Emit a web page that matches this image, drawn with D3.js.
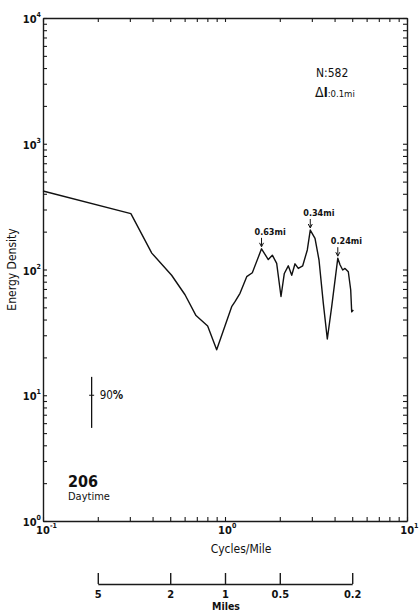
<!DOCTYPE html>
<html>
<head>
<meta charset="utf-8">
<script src="https://cdn.jsdelivr.net/npm/d3@7/dist/d3.min.js"></script>
<style>
  html, body { margin: 0; padding: 0; background: #fff; }
  svg { display: block; }
  text { font-family: "Liberation Sans Narrow", "DejaVu Sans Condensed", "Arial Narrow", sans-serif; fill: #111; }
</style>
</head>
<body>
<svg id="chart" width="419" height="613"></svg>
<script>
// Spectrum of energy density vs. spatial frequency (cycles per mile)
const FREQ = [0.1, 0.304, 0.396, 0.509, 0.603, 0.693, 0.803, 0.900, 1.088, 1.135,
              1.209, 1.316, 1.413, 1.5873, 1.729, 1.820, 1.923, 2.031, 2.118, 2.227,
              2.326, 2.425, 2.528, 2.673, 2.833, 2.9412, 3.123, 3.285, 3.468, 3.649,
              3.857, 4.1667, 4.285, 4.434, 4.564, 4.759, 4.905, 4.968, 5.07];
const DENSITY = [421, 278, 135, 90, 63, 43, 35.5, 23, 50.6, 55.5,
                 64.7, 87.7, 94.3, 146, 120, 130, 112, 61, 93, 107,
                 90, 111, 102, 107, 143, 206, 177, 119, 54, 28,
                 50.6, 123, 109, 99, 102, 96, 69, 46, 47.6];

// Wavelengths of the marked peaks (miles)
const PEAK_MILES = [0.63, 0.34, 0.24];
const PEAK_LABELS = ["0.63mi", "0.34mi", "0.24mi"];

// Axis decades
const X_DECADES = [0.1, 1, 10];
const X_EXPONENTS = ["-1", "0", "1"];
const Y_DECADES = [1, 10, 100, 1000, 10000];
const Y_EXPONENTS = ["0", "1", "2", "3", "4"];

// Wavelength axis (miles)
const MILES_TICKS = [5, 2, 1, 0.5, 0.2];

// 90% confidence bar
const CONF_FREQ = 0.185;
const CONF_CENTER = 10;
const CONF_LOW = 5.5;
const CONF_HIGH = 14;

const svg = d3.select("#chart");
const L = 43, R = 407, T = 18, B = 521;

const x = d3.scaleLog().domain([0.1, 10]).range([L, R]);
const y = d3.scaleLog().domain([1, 10000]).range([B, T]);

function logTicks(lo, hi) {
  const out = [];
  for (let d = lo; d < hi; d *= 10) for (let k = 1; k <= 10; k++) out.push(d * k);
  return Array.from(new Set(out.map(v => +v.toPrecision(6))));
}
const xTicks = logTicks(0.1, 10);
const yTicks = logTicks(1, 10000);

function styleAxis(g) {
  g.selectAll("path.domain").attr("stroke", "#1a1a1a").attr("stroke-width", 1.4);
  g.selectAll(".tick line").attr("stroke", "#1a1a1a").attr("stroke-width", 1.1);
  g.selectAll(".tick text").remove();
}

svg.append("g").attr("transform", `translate(0,${B})`)
  .call(d3.axisBottom(x).tickValues(xTicks).tickSizeInner(-4).tickSizeOuter(0).tickFormat(""))
  .call(styleAxis);
svg.append("g").attr("transform", `translate(0,${T})`)
  .call(d3.axisTop(x).tickValues(xTicks).tickSizeInner(-4).tickSizeOuter(0).tickFormat(""))
  .call(styleAxis);
svg.append("g").attr("transform", `translate(${L},0)`)
  .call(d3.axisLeft(y).tickValues(yTicks).tickSizeInner(-4).tickSizeOuter(0).tickFormat(""))
  .call(styleAxis);
svg.append("g").attr("transform", `translate(${R},0)`)
  .call(d3.axisRight(y).tickValues(yTicks).tickSizeInner(-4).tickSizeOuter(0).tickFormat(""))
  .call(styleAxis);

// Power-of-ten labels with superscripts
function powerLabel(px, py, exp, anchor) {
  const base = svg.append("text")
    .attr("font-size", 11).attr("font-weight", "bold")
    .attr("y", py).text("10");
  const w = base.node().getComputedTextLength();
  const sup = svg.append("text")
    .attr("font-size", 7).attr("font-weight", "bold")
    .attr("y", py - 6).text(exp);
  const sw = sup.node().getComputedTextLength();
  if (anchor === "end") {
    base.attr("x", px - sw - w);
    sup.attr("x", px - sw);
  } else if (anchor === "edge") {
    base.attr("x", px - w - sw);
    sup.attr("x", px - sw);
  } else {
    base.attr("x", px - w / 2);
    sup.attr("x", px + w / 2);
  }
}
X_DECADES.forEach((d, i) => powerLabel(i === 2 ? 418.5 : x(d), B + 13, X_EXPONENTS[i], i === 2 ? "edge" : "middle"));
Y_DECADES.forEach((d, i) => powerLabel(L - 2, y(d) + 5, Y_EXPONENTS[i], "end"));

// Axis titles
svg.append("text").attr("x", 241).attr("y", 553).attr("text-anchor", "middle")
  .attr("font-size", 12).text("Cycles/Mile");
svg.append("text").attr("transform", `translate(16,${(T + B) / 2}) rotate(-90)`)
  .attr("text-anchor", "middle").attr("font-size", 12).text("Energy Density");

// Spectrum line
const pts = FREQ.map((f, i) => [f, DENSITY[i]]);
svg.append("path").datum(pts)
  .attr("fill", "none").attr("stroke", "#111").attr("stroke-width", 1.4)
  .attr("stroke-linejoin", "round")
  .attr("d", d3.line().x(d => x(d[0])).y(d => y(d[1])));

// Peak annotations
PEAK_MILES.forEach((m, i) => {
  const f = 1 / m;
  const idx = d3.minIndex(FREQ, v => Math.abs(Math.log(v) - Math.log(f)));
  const px = x(f), py = y(DENSITY[idx]);
  svg.append("line").attr("x1", px).attr("x2", px).attr("y1", py - 11).attr("y2", py - 3)
    .attr("stroke", "#111").attr("stroke-width", 1);
  svg.append("path").attr("d", `M${px - 2},${py - 6}L${px},${py - 2}L${px + 2},${py - 6}`)
    .attr("fill", "none").attr("stroke", "#111").attr("stroke-width", 1);
  svg.append("text").attr("x", px - 7).attr("y", py - 14)
    .attr("font-size", 9).attr("font-weight", "bold").text(PEAK_LABELS[i]);
});

// Record info
svg.append("text").attr("x", 316).attr("y", 77).attr("font-size", 12).text("N:582");
const dl = svg.append("text").attr("x", 315).attr("y", 97);
dl.append("tspan").attr("font-size", 14).text("Δ");
dl.append("tspan").attr("font-size", 13).attr("font-weight", "bold").text("l");
dl.append("tspan").attr("font-size", 9.5).text(":0.1mi");

// 90% confidence interval bar
const cx = x(CONF_FREQ);
svg.append("line").attr("x1", cx).attr("x2", cx).attr("y1", y(CONF_HIGH)).attr("y2", y(CONF_LOW))
  .attr("stroke", "#111").attr("stroke-width", 1.3);
svg.append("line").attr("x1", cx - 2.5).attr("x2", cx + 2.5).attr("y1", y(CONF_CENTER)).attr("y2", y(CONF_CENTER))
  .attr("stroke", "#111").attr("stroke-width", 1);
const pct = svg.append("text").attr("x", cx + 8).attr("y", y(CONF_CENTER) + 4).attr("font-size", 11.5);
pct.append("tspan").text("90");
pct.append("tspan").attr("font-weight", "bold").text("%");

// Record number
svg.append("text").attr("x", 68).attr("y", 487).attr("font-size", 16).attr("font-weight", "bold").text("206");
svg.append("text").attr("x", 68).attr("y", 500).attr("font-size", 11).text("Daytime");

// Wavelength scale (miles) aligned with cycles/mile
const miles = d3.scaleLog().domain([5, 0.2]).range([x(1 / 5), x(1 / 0.2)]);
const mg = svg.append("g").attr("transform", "translate(0,584)")
  .call(d3.axisBottom(miles).tickValues(MILES_TICKS).tickSizeInner(-11).tickSizeOuter(0)
    .tickPadding(6).tickFormat(d => String(d)));
mg.selectAll("path.domain").attr("stroke", "#1a1a1a").attr("stroke-width", 1.4);
mg.selectAll(".tick line").attr("stroke", "#1a1a1a").attr("stroke-width", 1.4);
mg.selectAll(".tick text").attr("font-size", 11).attr("font-weight", "bold")
  .attr("font-family", null).attr("fill", "#111");
svg.append("text").attr("x", 226).attr("y", 610).attr("text-anchor", "middle")
  .attr("font-size", 10.5).attr("font-weight", "bold").text("Miles");
</script>
</body>
</html>
